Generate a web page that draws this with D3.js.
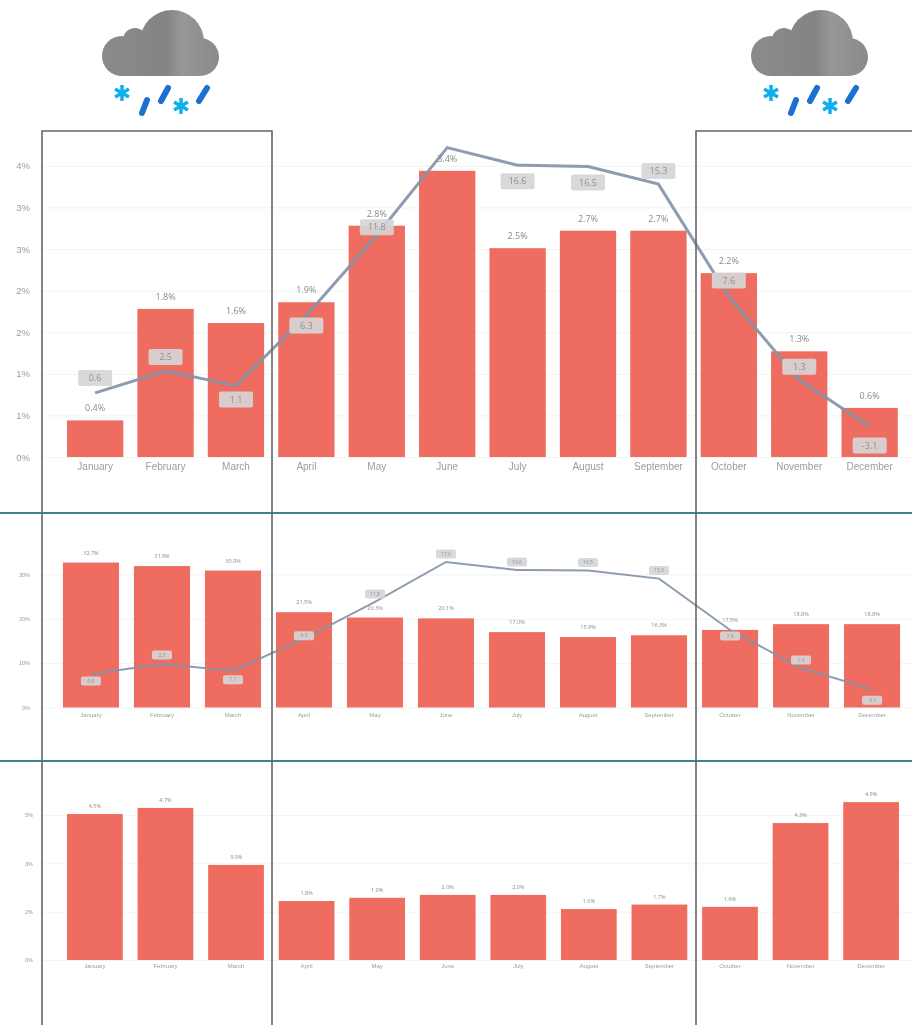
<!DOCTYPE html>
<html>
<head>
<meta charset="utf-8">
<script src="https://cdn.jsdelivr.net/npm/d3@7"></script>
<style>
  html, body { margin: 0; background: #fff; }
  svg { display: block; font-family: "Open Sans", sans-serif; }
  .tick text { fill: #9c9c9c; }
</style>
</head>
<body>
<div id="chart"></div>
<script>
const months = ['January', 'February', 'March', 'April', 'May', 'June', 'July', 'August', 'September', 'October', 'November', 'December'];

// bars, one list per row
const barValues1 = [0.44, 1.78, 1.61, 1.86, 2.78, 3.44, 2.51, 2.72, 2.72, 2.21, 1.27, 0.59];
const barValues2 = [32.7, 31.9, 30.9, 21.5, 20.3, 20.1, 17.0, 15.9, 16.3, 17.5, 18.8, 18.8];
const barValues3 = [4.53, 4.72, 2.95, 1.83, 1.93, 2.02, 2.02, 1.58, 1.72, 1.65, 4.25, 4.9];

// temperature line and the labels printed on it
const tempValues = [1.0, 2.5, 1.5, 6.3, 11.8, 17.8, 16.6, 16.5, 15.3, 7.6, 1.9, -1.3];
const tempLabels = ['0.6', '2.5', '1.1', '6.3', '11.8', '17.6', '16.6', '16.5', '15.3', '7.6', '1.3', '-3.1'];

const tickValues1 = [0, 0.5, 1, 1.5, 2, 2.5, 3, 3.5];
const tickLabels1 = ['0%', '1%', '1%', '2%', '2%', '3%', '3%', '4%'];
const tickValues2 = [0, 10, 20, 30];
const tickLabels2 = ['0%', '10%', '20%', '30%'];
const tickValues3 = [0, 1.5, 3, 4.5];
const tickLabels3 = ['0%', '2%', '3%', '5%'];

const width = 912;
const height = 1025;

const svg = d3.select('#chart').append('svg')
  .attr('width', width)
  .attr('height', height);

const defs = svg.append('defs');
defs.append('filter').attr('id', 'soft')
  .append('feGaussianBlur').attr('stdDeviation', 0.5);

const root = svg.append('g').attr('filter', 'url(#soft)');

function drawPanel(p) {
  const g = root.append('g');

  const x = d3.scaleBand().domain(months).range(p.xRange).padding(p.padding);
  const y = d3.scaleLinear().domain(p.yDomain).range(p.yRange);

  // grid + percent labels
  const yAxis = d3.axisLeft(y)
    .tickValues(p.ticks)
    .tickSize(-(width - p.axisX))
    .tickPadding(p.tickPad)
    .tickFormat((d, i) => p.tickLabels[i]);

  const gy = g.append('g')
    .attr('transform', `translate(${p.axisX},0)`)
    .call(yAxis);
  gy.select('.domain').remove();
  gy.selectAll('line').attr('stroke', '#f3f3f3');
  gy.selectAll('text').style('font-size', p.axisFont + 'px');

  const xAxis = d3.axisBottom(x).tickSize(0).tickPadding(p.monthPad);
  const gx = g.append('g')
    .attr('transform', `translate(0,${p.yRange[0]})`)
    .call(xAxis);
  gx.select('.domain').remove();
  gx.selectAll('text').style('font-size', p.monthFont + 'px');

  g.selectAll('.bar')
    .data(p.values)
    .enter().append('rect')
    .attr('class', 'bar')
    .attr('x', (d, i) => x(months[i]))
    .attr('width', x.bandwidth())
    .attr('y', d => y(d))
    .attr('height', d => p.yRange[0] - y(d))
    .attr('fill', '#ee6d60');

  g.selectAll('.barLabel')
    .data(p.values)
    .enter().append('text')
    .attr('class', 'barLabel')
    .attr('x', (d, i) => x(months[i]) + x.bandwidth() / 2)
    .attr('y', d => y(d) - p.barLabelGap)
    .attr('text-anchor', 'middle')
    .style('font-size', p.barFont + 'px')
    .style('fill', '#8a8a8a')
    .text(d => d3.format('.1f')(d) + '%');

  if (!p.temp) return;

  const t = d3.scaleLinear().domain([0, 18]).range(p.temp.range);
  const line = d3.line()
    .x((d, i) => x(months[i]) + x.bandwidth() / 2)
    .y(d => t(d));

  g.append('path')
    .datum(tempValues)
    .attr('fill', 'none')
    .attr('stroke', '#8394a8')
    .attr('stroke-opacity', 0.92)
    .attr('stroke-width', p.temp.lineWidth)
    .attr('d', line);

  // labels sit above or below the line, each one placed by hand in the original
  tempLabels.forEach((label, i) => {
    const off = p.temp.offsets[i];
    if (off === null) return;
    const cx = x(months[i]) + x.bandwidth() / 2;
    const cy = t(tempValues[i]) + off;
    g.append('rect')
      .attr('x', cx - p.temp.boxW / 2)
      .attr('y', cy - p.temp.boxH / 2)
      .attr('width', p.temp.boxW)
      .attr('height', p.temp.boxH)
      .attr('rx', 2)
      .attr('fill', '#d6d6d6')
      .attr('fill-opacity', 0.92);
    g.append('text')
      .attr('x', cx)
      .attr('y', cy)
      .attr('dy', '0.35em')
      .attr('text-anchor', 'middle')
      .style('font-size', p.temp.font + 'px')
      .style('fill', '#8f8f8f')
      .text(label);
  });
}

drawPanel({
  values: barValues1, ticks: tickValues1, tickLabels: tickLabels1,
  xRange: [52.9, 911.9], padding: 0.2,
  yDomain: [0, 3.5], yRange: [457, 165.8],
  axisX: 42, tickPad: 12, axisFont: 9.5, monthFont: 10, monthPad: 6, barFont: 9, barLabelGap: 9,
  temp: {
    range: [407.5, 144.7], lineWidth: 3, boxW: 34, boxH: 16, font: 9,
    offsets: [-15, -14, 14, 10, -8, null, 16, 16, -13, -16, -13, 19]
  }
});

drawPanel({
  values: barValues2, ticks: tickValues2, tickLabels: tickLabels2,
  xRange: [48, 915], padding: 0.21,
  yDomain: [0, 30], yRange: [707.5, 574.5],
  axisX: 42, tickPad: 12, axisFont: 5.5, monthFont: 6, monthPad: 5, barFont: 5.5, barLabelGap: 8,
  temp: {
    range: [680.7, 560.6], lineWidth: 2, boxW: 20, boxH: 9, font: 5,
    offsets: [7, -9, 9, -3, -8, -8, -8, -8, -8, 6, -8, 11]
  }
});

drawPanel({
  values: barValues3, ticks: tickValues3, tickLabels: tickLabels3,
  xRange: [52.2, 913.8], padding: 0.21,
  yDomain: [0, 4.5], yRange: [960, 815],
  axisX: 42, tickPad: 9, axisFont: 5.5, monthFont: 6, monthPad: 4, barFont: 5.5, barLabelGap: 6
});

// teal row separators
root.selectAll('.sep')
  .data([513, 761])
  .enter().append('line')
  .attr('class', 'sep')
  .attr('x1', 0).attr('x2', width)
  .attr('y1', d => d).attr('y2', d => d)
  .attr('stroke', '#3f8583')
  .attr('stroke-width', 2);

// winter frames, open at the bottom
const frame = d3.line();
[[42, 272], [696, 920]].forEach(([x0, x1]) => {
  root.append('path')
    .attr('d', frame([[x0, height], [x0, 131], [x1, 131], [x1, height]]))
    .attr('fill', 'none')
    .attr('stroke', '#666')
    .attr('stroke-width', 1.6);
});

// weather icons
const grad = defs.append('linearGradient')
  .attr('id', 'cloud')
  .attr('gradientUnits', 'userSpaceOnUse')
  .attr('x1', 102).attr('x2', 219).attr('y1', 0).attr('y2', 0);
grad.append('stop').attr('offset', 0).attr('stop-color', '#8b8b8b');
grad.append('stop').attr('offset', 0.55).attr('stop-color', '#848484');
grad.append('stop').attr('offset', 0.68).attr('stop-color', '#979797');
grad.append('stop').attr('offset', 1).attr('stop-color', '#8a8a8a');

function drawIcon(dx) {
  const g = root.append('g').attr('transform', `translate(${dx},0)`);
  const bumps = [[122, 56, 20], [135, 40, 12], [172, 42, 32], [200, 57, 19]];
  g.selectAll('circle')
    .data(bumps)
    .enter().append('circle')
    .attr('cx', d => d[0]).attr('cy', d => d[1]).attr('r', d => d[2])
    .attr('fill', 'url(#cloud)');
  g.append('rect')
    .attr('x', 122).attr('y', 45).attr('width', 78).attr('height', 31)
    .attr('fill', 'url(#cloud)');

  [[142, 113, 147, 100], [161, 101, 168, 88], [199, 101, 207, 88]].forEach(d => {
    g.append('line')
      .attr('x1', d[0]).attr('y1', d[1]).attr('x2', d[2]).attr('y2', d[3])
      .attr('stroke', '#1b6fcf')
      .attr('stroke-width', 6)
      .attr('stroke-linecap', 'round');
  });

  [[122, 93], [181, 106]].forEach(c => {
    d3.range(3).forEach(k => {
      const a = Math.PI / 2 + k * Math.PI / 3;
      g.append('line')
        .attr('x1', c[0] - 8 * Math.cos(a)).attr('y1', c[1] - 8 * Math.sin(a))
        .attr('x2', c[0] + 8 * Math.cos(a)).attr('y2', c[1] + 8 * Math.sin(a))
        .attr('stroke', '#0fb0ea')
        .attr('stroke-width', 3.5);
    });
  });
}
drawIcon(0);
drawIcon(649);
</script>
</body>
</html>
